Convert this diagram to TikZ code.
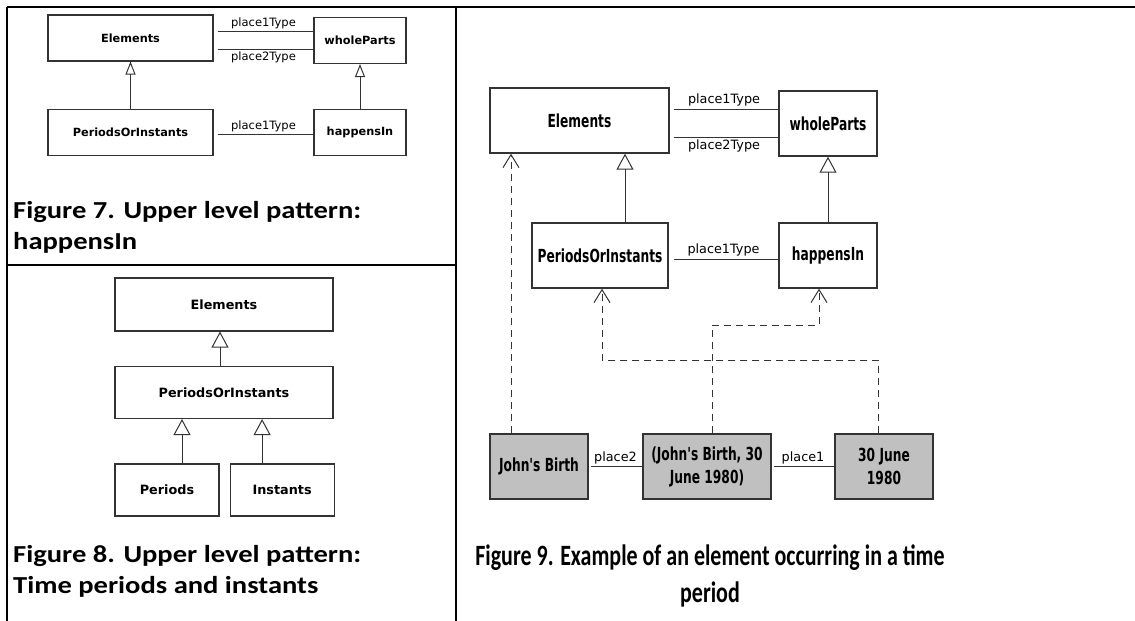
\documentclass[tikz,border=0pt]{standalone}
\usepackage{fontspec}
\setmainfont{Carlito}
\newfontfamily\capfont[FakeStretch=1.17]{Carlito}
\newfontfamily\capfontn[FakeStretch=0.745]{Carlito}
\newfontfamily\clsfont{DejaVu Sans}
\newfontfamily\clsfontn[FakeStretch=0.68]{DejaVu Sans}
\usepackage{tikz}
\usetikzlibrary{positioning,arrows.meta}
\definecolor{instgray}{HTML}{C0C0C0}
\definecolor{boxline}{HTML}{333333}
\tikzstyle{cls} = [draw=boxline, line width=1.1pt, inner sep=0pt, align=center]
\tikzstyle{cls7} = [cls, minimum height=46pt, font=\clsfont\bfseries\fontsize{11.3}{13}\selectfont]
\tikzstyle{cls8} = [cls, minimum height=52pt, font=\clsfont\bfseries\fontsize{12.8}{15}\selectfont]
\tikzstyle{cls9} = [cls, line width=1.4pt, minimum height=65pt, font=\clsfontn\bfseries\fontsize{18}{23}\selectfont]
\tikzstyle{inst9} = [cls9, fill=instgray]
\tikzstyle{assoc} = [draw=boxline, line width=1pt]
\tikzstyle{lbl7} = [font=\clsfont\fontsize{11.5}{13}\selectfont, inner sep=2pt]
\tikzstyle{lbl9} = [font=\clsfont\fontsize{12.8}{15}\selectfont, inner sep=2pt]
\tikzstyle{gen7} = [assoc, -{Triangle[open, width=10pt, length=13pt]}]
\tikzstyle{gen} = [assoc, -{Triangle[open, width=17pt, length=16pt]}]
\tikzstyle{inst} = [assoc, dash pattern=on 7pt off 5pt, -{Straight Barb[width=16pt, length=13pt]}]
\tikzstyle{rule} = [line width=2pt]
\tikzstyle{capt} = [font=\capfont\bfseries\fontsize{24.4}{30}\selectfont, inner sep=0pt]
\tikzstyle{capt9} = [font=\capfontn\bfseries\fontsize{29.5}{36}\selectfont, inner sep=0pt]

\begin{document}
\begin{tikzpicture}[x=1pt, y=-1pt]
	\useasboundingbox (0,0) rectangle (1135,621);
	% table rules
	\draw[rule] (7,7) -- (1135,7);
	\draw[rule] (7,7) -- (7,621);
	\draw[rule] (456,7) -- (456,621);
	\draw[rule] (7,265) -- (456,265);

	% figure 7
	\node[cls7, minimum width=165pt] (e7) at (130.5,38) {Elements};
	\node[cls7, minimum width=92pt] (w7) at (360,40.5) {wholeParts};
	\node[cls7, minimum width=165pt] (p7) at (130.5,132.5) {PeriodsOrInstants};
	\node[cls7, minimum width=92pt] (h7) at (360,132.5) {happensIn};
	\draw[assoc, shorten <=4pt] ([yshift=7pt]e7.east) -- node[lbl7, above] {place1Type} ([yshift=7pt]e7.east -| w7.west);
	\draw[assoc, shorten <=4pt] ([yshift=-11pt]e7.east) -- node[lbl7, below] {place2Type} ([yshift=-11pt]e7.east -| w7.west);
	\draw[assoc, shorten <=4pt] ([yshift=-1.5pt]p7.east) -- node[lbl7, above] {place1Type} ([yshift=-1.5pt]p7.east -| h7.west);
	\draw[gen7] (p7) -- (e7);
	\draw[gen7] (h7) -- (w7);
	\node[capt, anchor=base west] (c7a) at (13,218) {Figure 7. Upper level pattern:};
	\node[capt, anchor=base west] (c7b) at ([yshift=-31pt]c7a.base west) {happensIn};

	% figure 8
	\node[cls8, minimum width=218pt, minimum height=53pt] (e8) at (224,304.5) {Elements};
	\node[cls8, minimum width=218pt] (p8) at (224,392.5) {PeriodsOrInstants};
	\node[cls8, minimum width=104pt] (pe8) at (167,490) {Periods};
	\node[cls8, minimum width=104pt, right=10pt of pe8] (in8) {Instants};
	\draw[gen] ([xshift=-4pt]p8.north) -- ([xshift=-4pt]e8.south);
	\draw[gen] ([xshift=15pt]pe8.north) -- ([xshift=15pt]pe8.north |- p8.south);
	\draw[gen] ([xshift=-20pt]in8.north) -- ([xshift=-20pt]in8.north |- p8.south);
	\node[capt, anchor=base west] (c8a) at (13,562) {Figure 8. Upper level pattern:};
	\node[capt, anchor=base west] (c8b) at ([yshift=-31pt]c8a.base west) {Time periods and instants};

	% figure 9
	\node[cls9, minimum width=179pt] (e9) at (579.5,120.5) {Elements};
	\node[cls9, minimum width=98pt] (w9) at (828,123.5) {wholeParts};
	\node[cls9, minimum width=136pt] (p9) at (600,255.5) {PeriodsOrInstants};
	\node[cls9, minimum width=98pt] (h9) at (828,255.5) {happensIn};
	\node[inst9, minimum width=98pt] (jb) at (539,466.5) {John's Birth};
	\node[inst9, minimum width=128pt] (jbd) at (707,466.5) {(John's Birth, 30\\June 1980)};
	\node[inst9, minimum width=98pt] (d) at (884,466.5) {30 June\\1980};
	\draw[assoc, shorten <=4pt] ([yshift=11.5pt]e9.east) -- node[lbl9, above] {place1Type} ([yshift=11.5pt]e9.east -| w9.west);
	\draw[assoc, shorten <=4pt] ([yshift=-16.5pt]e9.east) -- node[lbl9, below] {place2Type} ([yshift=-16.5pt]e9.east -| w9.west);
	\draw[assoc, shorten <=5pt] ([yshift=-3.5pt]p9.east) -- node[lbl9, above] {place1Type} ([yshift=-3.5pt]p9.east -| h9.west);
	\draw[assoc, shorten <=2pt] (jb) -- node[lbl9, above] {place2} (jbd);
	\draw[assoc, shorten <=2pt] (jbd) -- node[lbl9, above] {place1} (d);
	\draw[gen] ([xshift=25pt]p9.north) -- ([xshift=25pt]p9.north |- e9.south);
	\draw[gen] (h9) -- (w9);
	\coordinate (k1) at (0,325);
	\coordinate (k2) at (0,360);
	\draw[inst] ([xshift=-28pt]jb.north) -- ([xshift=-28pt]jb.north |- e9.south);
	\draw[inst] ([xshift=5pt]jbd.north) -- ([xshift=5pt]jbd.north |- k1) -| ([xshift=-9pt]h9.south);
	\draw[inst] ([xshift=-6pt]d.north) -- ([xshift=-6pt]d.north |- k2) -| ([xshift=2pt]p9.south);
	\node[capt9, anchor=base] (c9a) at (710,565) {Figure 9. Example of an element occurring in a time};
	\node[capt9, anchor=base] (c9b) at ([yshift=-37pt]c9a.base) {period};
\end{tikzpicture}
\end{document}
